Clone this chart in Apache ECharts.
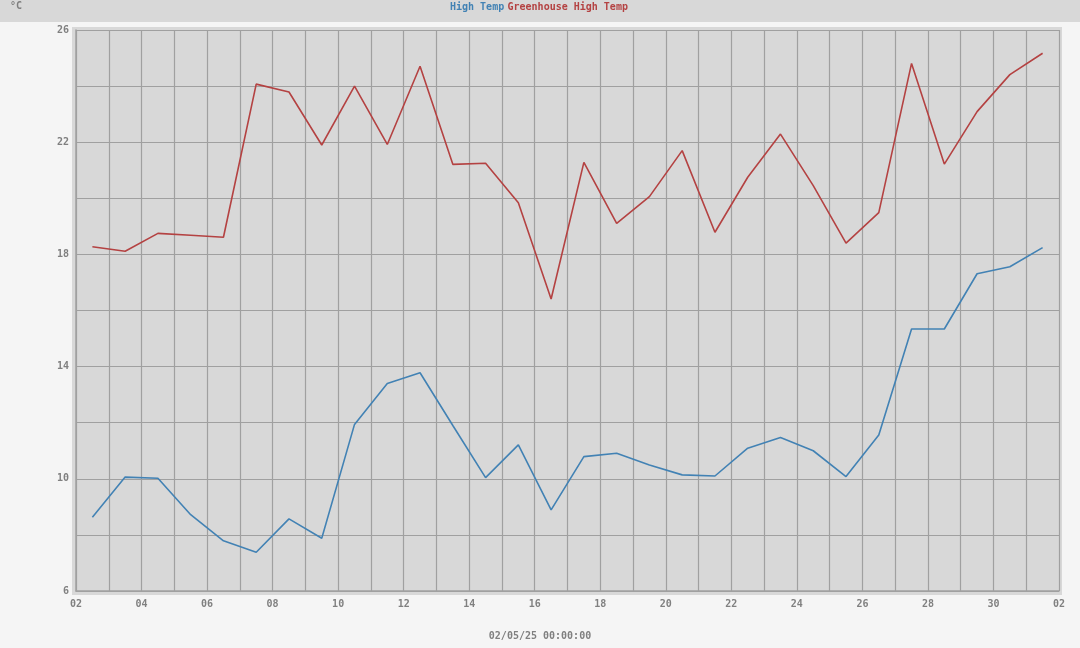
<!DOCTYPE html>
<html>
<head>
<meta charset="utf-8">
<script src="https://cdn.jsdelivr.net/npm/echarts@6/dist/echarts.min.js"></script>
<style>
html,body{margin:0;padding:0;background:#f5f5f5;}
#c{width:1080px;height:648px;}
</style>
</head>
<body>
<div id="c"></div>
<script>
// Day labels for x ticks (every 2 days, starting 02)
const xTickLabels = ['02','04','06','08','10','12','14','16','18','20','22','24','26','28','30','02'];
// y tick labels shown
const yTickLabels = [6,10,14,18,22,26];
// Values: one per day (plotted at day mid-point)
const highTemp = [8.63,10.06,10.02,8.72,7.79,7.38,8.57,7.88,11.94,13.40,13.78,11.9,10.04,11.21,8.89,10.79,10.91,10.49,10.14,10.10,11.09,11.47,11.0,10.08,11.56,15.34,15.34,17.31,17.56,18.24];
const greenhouseHighTemp = [18.27,18.11,18.75,18.68,18.61,24.07,23.79,21.90,24.0,21.92,24.71,21.21,21.25,19.84,16.41,21.28,19.11,20.06,21.70,18.79,20.75,22.29,20.45,18.40,19.49,24.81,21.22,23.09,24.41,25.17];
const seriesNames = ['High Temp','Greenhouse High Temp'];
const unitLabel = '°C';
const xTitle = '02/05/25 00:00:00';

const toPts = arr => arr.map((v,i)=>[i+0.5,v]);
const font = '"DejaVu Sans Mono", monospace';
const gridCol = '#a0a0a0';

const chart = echarts.init(document.getElementById('c'));
chart.setOption({
  backgroundColor:'#f5f5f5',
  animation:false,
  graphic:[
    {type:'rect',z:-10,shape:{x:0,y:0,width:1080,height:22},style:{fill:'#d8d8d8'}},
    {type:'rect',z:-10,shape:{x:72,y:27,width:990,height:568},style:{fill:'#d8d8d8'}},
    {type:'text',left:10,top:1,style:{text:unitLabel,font:'bold 10px '+font,fill:'#808080'}},
    {type:'text',left:450,top:1,style:{
      rich:{
        a:{fill:'#4282b4',font:'bold 10px '+font},
        b:{fill:'#b44242',font:'bold 10px '+font}
      },
      text:'{a|'+seriesNames[0]+'} {b|'+seriesNames[1]+'}'
    }},
    {type:'text',x:540,y:636,style:{text:xTitle,font:'bold 10px '+font,fill:'#808080',align:'center',verticalAlign:'middle'}}
  ],
  grid:{left:76,right:21,top:30,bottom:57,show:true,backgroundColor:'#d8d8d8',borderWidth:0},
  xAxis:{
    type:'value',min:0,max:30,interval:1,
    axisLine:{show:true,lineStyle:{color:gridCol,width:1.5}},
    axisTick:{show:false},
    splitLine:{show:true,lineStyle:{color:gridCol,width:1.2}},
    axisLabel:{
      color:'#808080',fontFamily:font,fontSize:10,fontWeight:'bold',margin:8,
      showMinLabel:true,showMaxLabel:true,
      formatter:v=> (v%2===0) ? xTickLabels[v/2] : ''
    }
  },
  yAxis:{
    type:'value',min:6,max:26,interval:2,
    axisLine:{show:true,lineStyle:{color:gridCol,width:1.5}},
    axisTick:{show:false},
    splitLine:{show:true,lineStyle:{color:gridCol,width:1.2}},
    axisLabel:{
      color:'#808080',fontFamily:font,fontSize:10,fontWeight:'bold',margin:7,
      formatter:v=> yTickLabels.includes(v) ? String(v) : ''
    }
  },
  series:[
    {name:seriesNames[0],type:'line',data:toPts(highTemp),showSymbol:false,
     lineStyle:{color:'#4282b4',width:1.6},itemStyle:{color:'#4282b4'}},
    {name:seriesNames[1],type:'line',data:toPts(greenhouseHighTemp),showSymbol:false,
     lineStyle:{color:'#b44242',width:1.6},itemStyle:{color:'#b44242'}}
  ]
});
</script>
</body>
</html>
